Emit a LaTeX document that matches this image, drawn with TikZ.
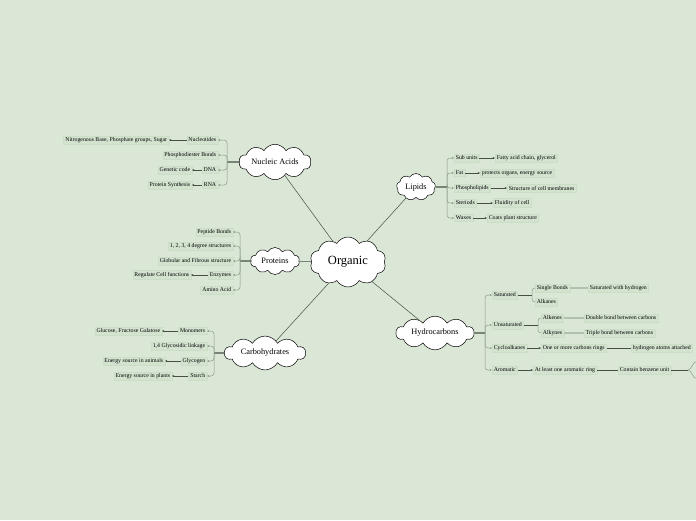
\documentclass[tikz,border=0pt]{standalone}
\usepackage{fontspec}
\setmainfont{Liberation Serif}
\usetikzlibrary{shapes.symbols,arrows.meta}
\definecolor{bg}{RGB}{218,230,214}
\definecolor{boxfill}{RGB}{212,227,208}
\definecolor{boxline}{RGB}{203,220,199}
\definecolor{brkc}{RGB}{140,155,138}
\definecolor{pale}{RGB}{178,193,175}
\definecolor{dark}{RGB}{70,80,70}
\tikzset{
  cl/.style={cloud, cloud puffs=10, cloud puff arc=120, draw=black, fill=white, line width=0.5pt, inner sep=0pt, font=\fontsize{8.3}{9}\selectfont},
  lbl/.style={fill=boxfill, draw=boxline, line width=0.3pt, inner sep=1.7pt, font=\fontsize{5.8}{6.5}\selectfont},
  link/.style={draw=dark, line width=0.5pt},
  stem/.style={draw=dark, line width=1.4pt},
  brk/.style={draw=brkc, line width=0.5pt, rounded corners=3pt, -{Stealth[length=2.4pt,width=2pt]}},
  brkn/.style={draw=brkc, line width=0.5pt, rounded corners=3pt},
  arr/.style={draw=dark, line width=0.35pt, -{Stealth[length=2.4pt,width=2pt]}},
  ln/.style={draw=dark, line width=0.4pt},
  pl/.style={draw=pale, line width=1.2pt},
}
\begin{document}
\begin{tikzpicture}[x=1pt,y=-1pt]
\fill[bg] (0,0) rectangle (696,520);
\useasboundingbox (0,0) rectangle (696,520);

% clouds
\node[cl, aspect=1.7, minimum width=76pt, minimum height=50pt, font=\fontsize{12.5}{13}\selectfont] (org) at (348,262) {Organic};
\node[cl, aspect=2.7, minimum width=72pt, minimum height=28pt] (nuc) at (275,162) {Nucleic Acids};
\node[cl, aspect=1.5, cloud puffs=9, minimum width=39pt, minimum height=27pt] (lip) at (416,187) {Lipids};
\node[cl, aspect=1.9, minimum width=49pt, minimum height=27pt] (pro) at (275,261) {Proteins};
\node[cl, aspect=3.0, minimum width=81pt, minimum height=28pt] (car) at (265,353) {Carbohydrates};
\node[cl, aspect=2.9, minimum width=78pt, minimum height=28pt] (hyd) at (435,333) {Hydrocarbons};

\draw[link] (org) -- (nuc);
\draw[link] (org) -- (lip);
\draw[link] (org) -- (pro);
\draw[link] (org) -- (car);
\draw[link] (org) -- (hyd);

% ---------- Nucleic acids ----------
\coordinate (nj) at (227,162);
\draw[stem] (nuc.west) -- (nj);
\node[lbl, anchor=east] (n1) at (218,140) {Nucleotides};
\node[lbl, anchor=east] (n2) at (218,155) {Phosphodiester Bonds};
\node[lbl, anchor=east] (n3) at (218,170) {DNA};
\node[lbl, anchor=east] (n4) at (218,185) {RNA};
\foreach \n in {n1,n2,n3,n4} \draw[brk] (nj) |- (\n.east);
\node[lbl, anchor=east] (n1a) at (169,140) {Nitrogenous Base, Phosphate groups, Sugar};
\node[lbl, anchor=east] (n3a) at (192,170) {Genetic code};
\node[lbl, anchor=east] (n4a) at (192,185) {Protein Synthesis};
\draw[arr] (n1) -- (n1a);
\draw[arr] (n3) -- (n3a);
\draw[arr] (n4) -- (n4a);

% ---------- Proteins ----------
\coordinate (pj) at (240,261);
\draw[stem] (pro.west) -- (pj);
\node[lbl, anchor=east] (p1) at (233,232) {Peptide Bonds};
\node[lbl, anchor=east] (p2) at (233,246) {1, 2, 3, 4 degree structures};
\node[lbl, anchor=east] (p3) at (233,261) {Globular and Fibrous structure};
\node[lbl, anchor=east] (p4) at (233,275) {Enzymes};
\node[lbl, anchor=east] (p5) at (233,290) {Amino Acid};
\foreach \n in {p1,p2,p3,p4,p5} \draw[brk] (pj) |- (\n.east);
\node[lbl, anchor=east] (p4a) at (191,275) {Regulate Cell functions};
\draw[arr] (p4) -- (p4a);

% ---------- Carbohydrates ----------
\coordinate (cj) at (214,353);
\draw[stem] (car.west) -- (cj);
\node[lbl, anchor=east] (c1) at (207,331) {Monomers};
\node[lbl, anchor=east] (c2) at (207,346) {1,4 Glycosidic linkage};
\node[lbl, anchor=east] (c3) at (207,361) {Glycogen};
\node[lbl, anchor=east] (c4) at (207,376) {Starch};
\foreach \n in {c1,c2,c3,c4} \draw[brk] (cj) |- (\n.east);
\node[lbl, anchor=east] (c1a) at (162,331) {Glucose, Fructose Galatose};
\node[lbl, anchor=east] (c3a) at (165,361) {Energy source in animals};
\node[lbl, anchor=east] (c4a) at (172,376) {Energy source in plants};
\draw[arr] (c1) -- (c1a);
\draw[arr] (c3) -- (c3a);
\draw[arr] (c4) -- (c4a);

% ---------- Lipids ----------
\coordinate (lj) at (447,187);
\draw[stem] (lip.east) -- (lj);
\node[lbl, anchor=west] (l1) at (454,158) {Sub units};
\node[lbl, anchor=west] (l2) at (454,173) {Fat};
\node[lbl, anchor=west] (l3) at (454,188) {Phospholipids};
\node[lbl, anchor=west] (l4) at (454,203) {Steriods};
\node[lbl, anchor=west] (l5) at (454,218) {Waxes};
\foreach \n in {l1,l2,l3,l4,l5} \draw[brk] (lj) |- (\n.west);
\node[lbl, anchor=west] (l1a) at (495,158) {Fatty acid chain, glycerol};
\node[lbl, anchor=west] (l2a) at (480,173) {protects organs, energy source};
\node[lbl, anchor=west] (l3a) at (507,188) {Structure of cell membranes};
\node[lbl, anchor=west] (l4a) at (493,203) {Fluidity of cell};
\node[lbl, anchor=west] (l5a) at (487,218) {Coats plant structure};
\draw[arr] (l1) -- (l1a);
\draw[arr] (l2) -- (l2a);
\draw[arr] (l3) -- (l3a);
\draw[arr] (l4) -- (l4a);
\draw[arr] (l5) -- (l5a);

% ---------- Hydrocarbons ----------
\coordinate (hj) at (485,333);
\draw[stem] (hyd.east) -- (hj);
\node[lbl, anchor=west] (h1) at (492,295) {Saturated};
\node[lbl, anchor=west] (h2) at (492,325) {Unsaturated};
\node[lbl, anchor=west] (h3) at (492,348) {Cycloalkanes};
\node[lbl, anchor=west] (h4) at (492,370) {Aromatic};
\foreach \n in {h1,h2,h3,h4} \draw[brk] (hj) |- (\n.west);

% saturated
\coordinate (h1j) at (532,295);
\draw[ln] (h1.east) -- (h1j);
\node[lbl, anchor=west] (h1a) at (535,288) {Single Bonds};
\node[lbl, anchor=west] (h1b) at (535,302) {Alkanes};
\draw[brkn] (h1j) |- (h1a.west);
\draw[brkn] (h1j) |- (h1b.west);
\node[lbl, anchor=west] (h1c) at (588,288) {Saturated with hydrogen};
\draw[pl] (h1a) -- (h1c);

% unsaturated
\coordinate (h2j) at (538,325);
\draw[ln] (h2.east) -- (h2j);
\node[lbl, anchor=west] (h2a) at (541,318) {Alkenes};
\node[lbl, anchor=west] (h2b) at (541,333) {Alkynes};
\draw[brkn] (h2j) |- (h2a.west);
\draw[brkn] (h2j) |- (h2b.west);
\node[lbl, anchor=west] (h2c) at (584,318) {Double bond between carbons};
\node[lbl, anchor=west] (h2d) at (584,333) {Triple bond between carbons};
\draw[pl] (h2a) -- (h2c);
\draw[pl] (h2b) -- (h2d);

% cycloalkanes
\node[lbl, anchor=west] (h3a) at (541,348) {One or more carbons rings};
\node[lbl, anchor=west] (h3b) at (631,348) {hydrogen atoms attached};
\draw[arr] (h3) -- (h3a);
\draw[ln] (h3a) -- (h3b);

% aromatic
\node[lbl, anchor=west] (h4a) at (533,370) {At least one aromatic ring};
\node[lbl, anchor=west] (h4b) at (618,370) {Contain benzene unit};
\draw[arr] (h4) -- (h4a);
\draw[ln] (h4a) -- (h4b);
\coordinate (h4j) at (688,370);
\coordinate (h4u) at (698,361);
\coordinate (h4d) at (698,379);
\draw[ln] (h4b) -- (h4j);
\draw[brkn] (h4j) .. controls (692,370) and (692,361) .. (h4u);
\draw[brkn] (h4j) .. controls (692,370) and (692,379) .. (h4d);
\end{tikzpicture}
\end{document}
